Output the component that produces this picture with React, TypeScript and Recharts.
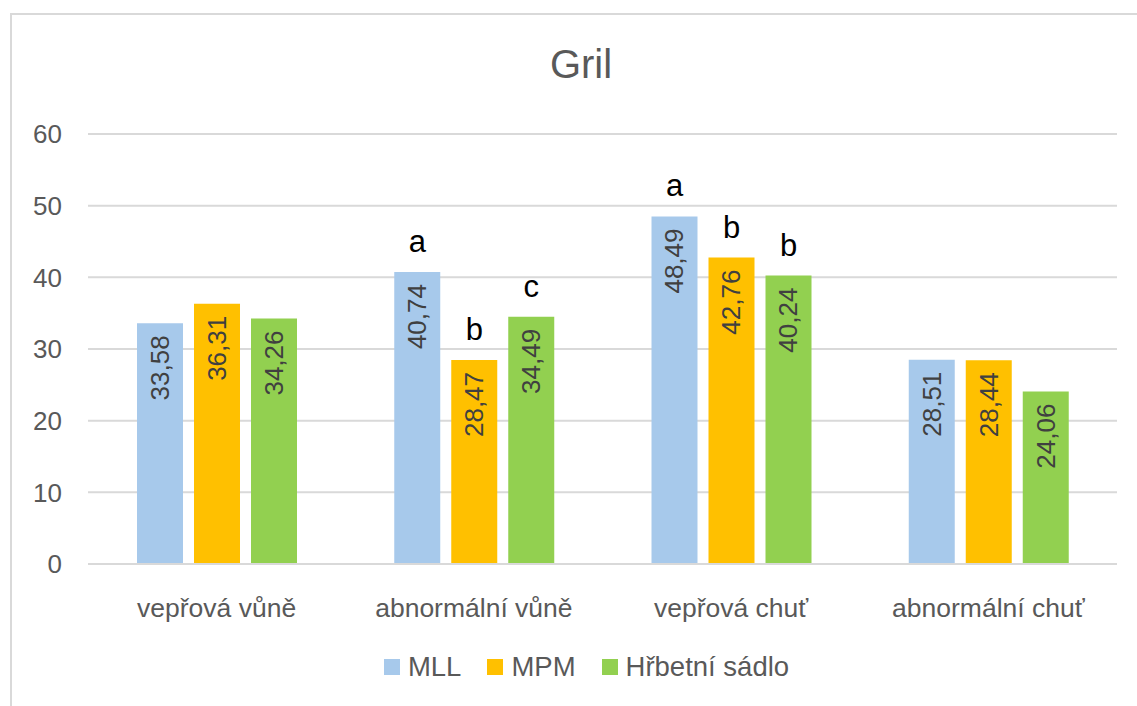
import React from "react";
import {
  Bar,
  BarChart,
  CartesianGrid,
  LabelList,
  Legend,
  XAxis,
  YAxis,
} from "recharts";

const kategorie = ["vepřová vůně", "abnormální vůně", "vepřová chuť", "abnormální chuť"];
const mll = [33.58, 40.74, 48.49, 28.51];
const mpm = [36.31, 28.47, 42.76, 28.44];
const sadlo = [34.26, 34.49, 40.24, 24.06];
const mllPismena = ["", "a", "a", ""];
const mpmPismena = ["", "b", "b", ""];
const sadloPismena = ["", "c", "b", ""];
const yTicks = [0, 10, 20, 30, 40, 50, 60];

const serie = [
  { key: "mll", name: "MLL", color: "#A7C9EB" },
  { key: "mpm", name: "MPM", color: "#FFC000" },
  { key: "sadlo", name: "Hřbetní sádlo", color: "#92D050" },
];

const data = kategorie.map((k, i) => ({
  kategorie: k,
  mll: mll[i],
  mpm: mpm[i],
  sadlo: sadlo[i],
  mllSig: mllPismena[i],
  mpmSig: mpmPismena[i],
  sadloSig: sadloPismena[i],
}));

const font = "'Liberation Sans', Arial, sans-serif";
const seda = "#595959";

const Hodnota = (props: any) => {
  const { x, y, width, value } = props;
  const cx = Number(x) + Number(width) / 2;
  const ty = Number(y) + 12;
  return (
    <text
      x={cx}
      y={ty}
      transform={`rotate(-90, ${cx}, ${ty})`}
      textAnchor="end"
      dominantBaseline="central"
      fill="#404040"
      fontSize={26}
      fontFamily={font}
    >
      {Number(value).toFixed(2).replace(".", ",")}
    </text>
  );
};

const Pismeno = (props: any) => {
  const { x, y, width, value } = props;
  if (!value) return null;
  return (
    <text
      x={Number(x) + Number(width) / 2}
      y={Number(y) - 20}
      textAnchor="middle"
      fill="#000"
      fontSize={31}
      fontFamily={font}
    >
      {value}
    </text>
  );
};

const Legenda = () => (
  <div
    style={{
      height: 62,
      display: "flex",
      justifyContent: "center",
      alignItems: "flex-start",
      paddingLeft: 56,
      paddingTop: 7,
      boxSizing: "border-box",
      fontFamily: font,
      fontSize: 27.5,
      color: seda,
    }}
  >
    {serie.map((s) => (
      <div key={s.key} style={{ display: "flex", alignItems: "center", margin: "0 13px" }}>
        <span style={{ width: 16, height: 16, background: s.color, marginRight: 8, display: "inline-block" }} />
        <span>{s.name}</span>
      </div>
    ))}
  </div>
);

export default function App() {
  return (
    <div
      style={{
        position: "absolute",
        left: 0,
        top: 0,
        width: 1137,
        height: 706,
        background: "#fff",
        fontFamily: font,
        overflow: "hidden",
      }}
    >
      <div
        style={{
          position: "absolute",
          left: 10,
          top: 13,
          width: 1140,
          height: 700,
          borderTop: "2px solid #d9d9d9",
          borderLeft: "2px solid #d9d9d9",
        }}
      />
      <div
        style={{
          position: "absolute",
          left: 0,
          top: 42,
          width: 1162,
          textAlign: "center",
          fontSize: 40,
          color: seda,
        }}
      >
        Gril
      </div>
      <BarChart
        width={1137}
        height={706}
        data={data}
        margin={{ top: 134, right: 20, left: 0, bottom: 0 }}
        barSize={46}
        barGap={11}
        style={{ position: "absolute", left: 0, top: 0 }}
      >
        <CartesianGrid vertical={false} stroke="#d9d9d9" strokeWidth={2} />
        <XAxis
          dataKey="kategorie"
          height={80}
          tickLine={false}
          tickSize={0}
          tickMargin={34}
          axisLine={{ stroke: "#d9d9d9", strokeWidth: 2 }}
          tick={{ fill: seda, fontSize: 26.5 }}
        />
        <YAxis
          width={88}
          domain={[0, 60]}
          ticks={yTicks}
          tickLine={false}
          tickSize={0}
          tickMargin={26}
          axisLine={false}
          tick={{ fill: seda, fontSize: 26 }}
        />
        <Legend verticalAlign="bottom" content={<Legenda />} />
        {serie.map((s) => (
          <Bar key={s.key} dataKey={s.key} name={s.name} fill={s.color} isAnimationActive={false}>
            <LabelList dataKey={s.key} content={<Hodnota />} />
            <LabelList dataKey={`${s.key}Sig`} content={<Pismeno />} />
          </Bar>
        ))}
      </BarChart>
    </div>
  );
}
